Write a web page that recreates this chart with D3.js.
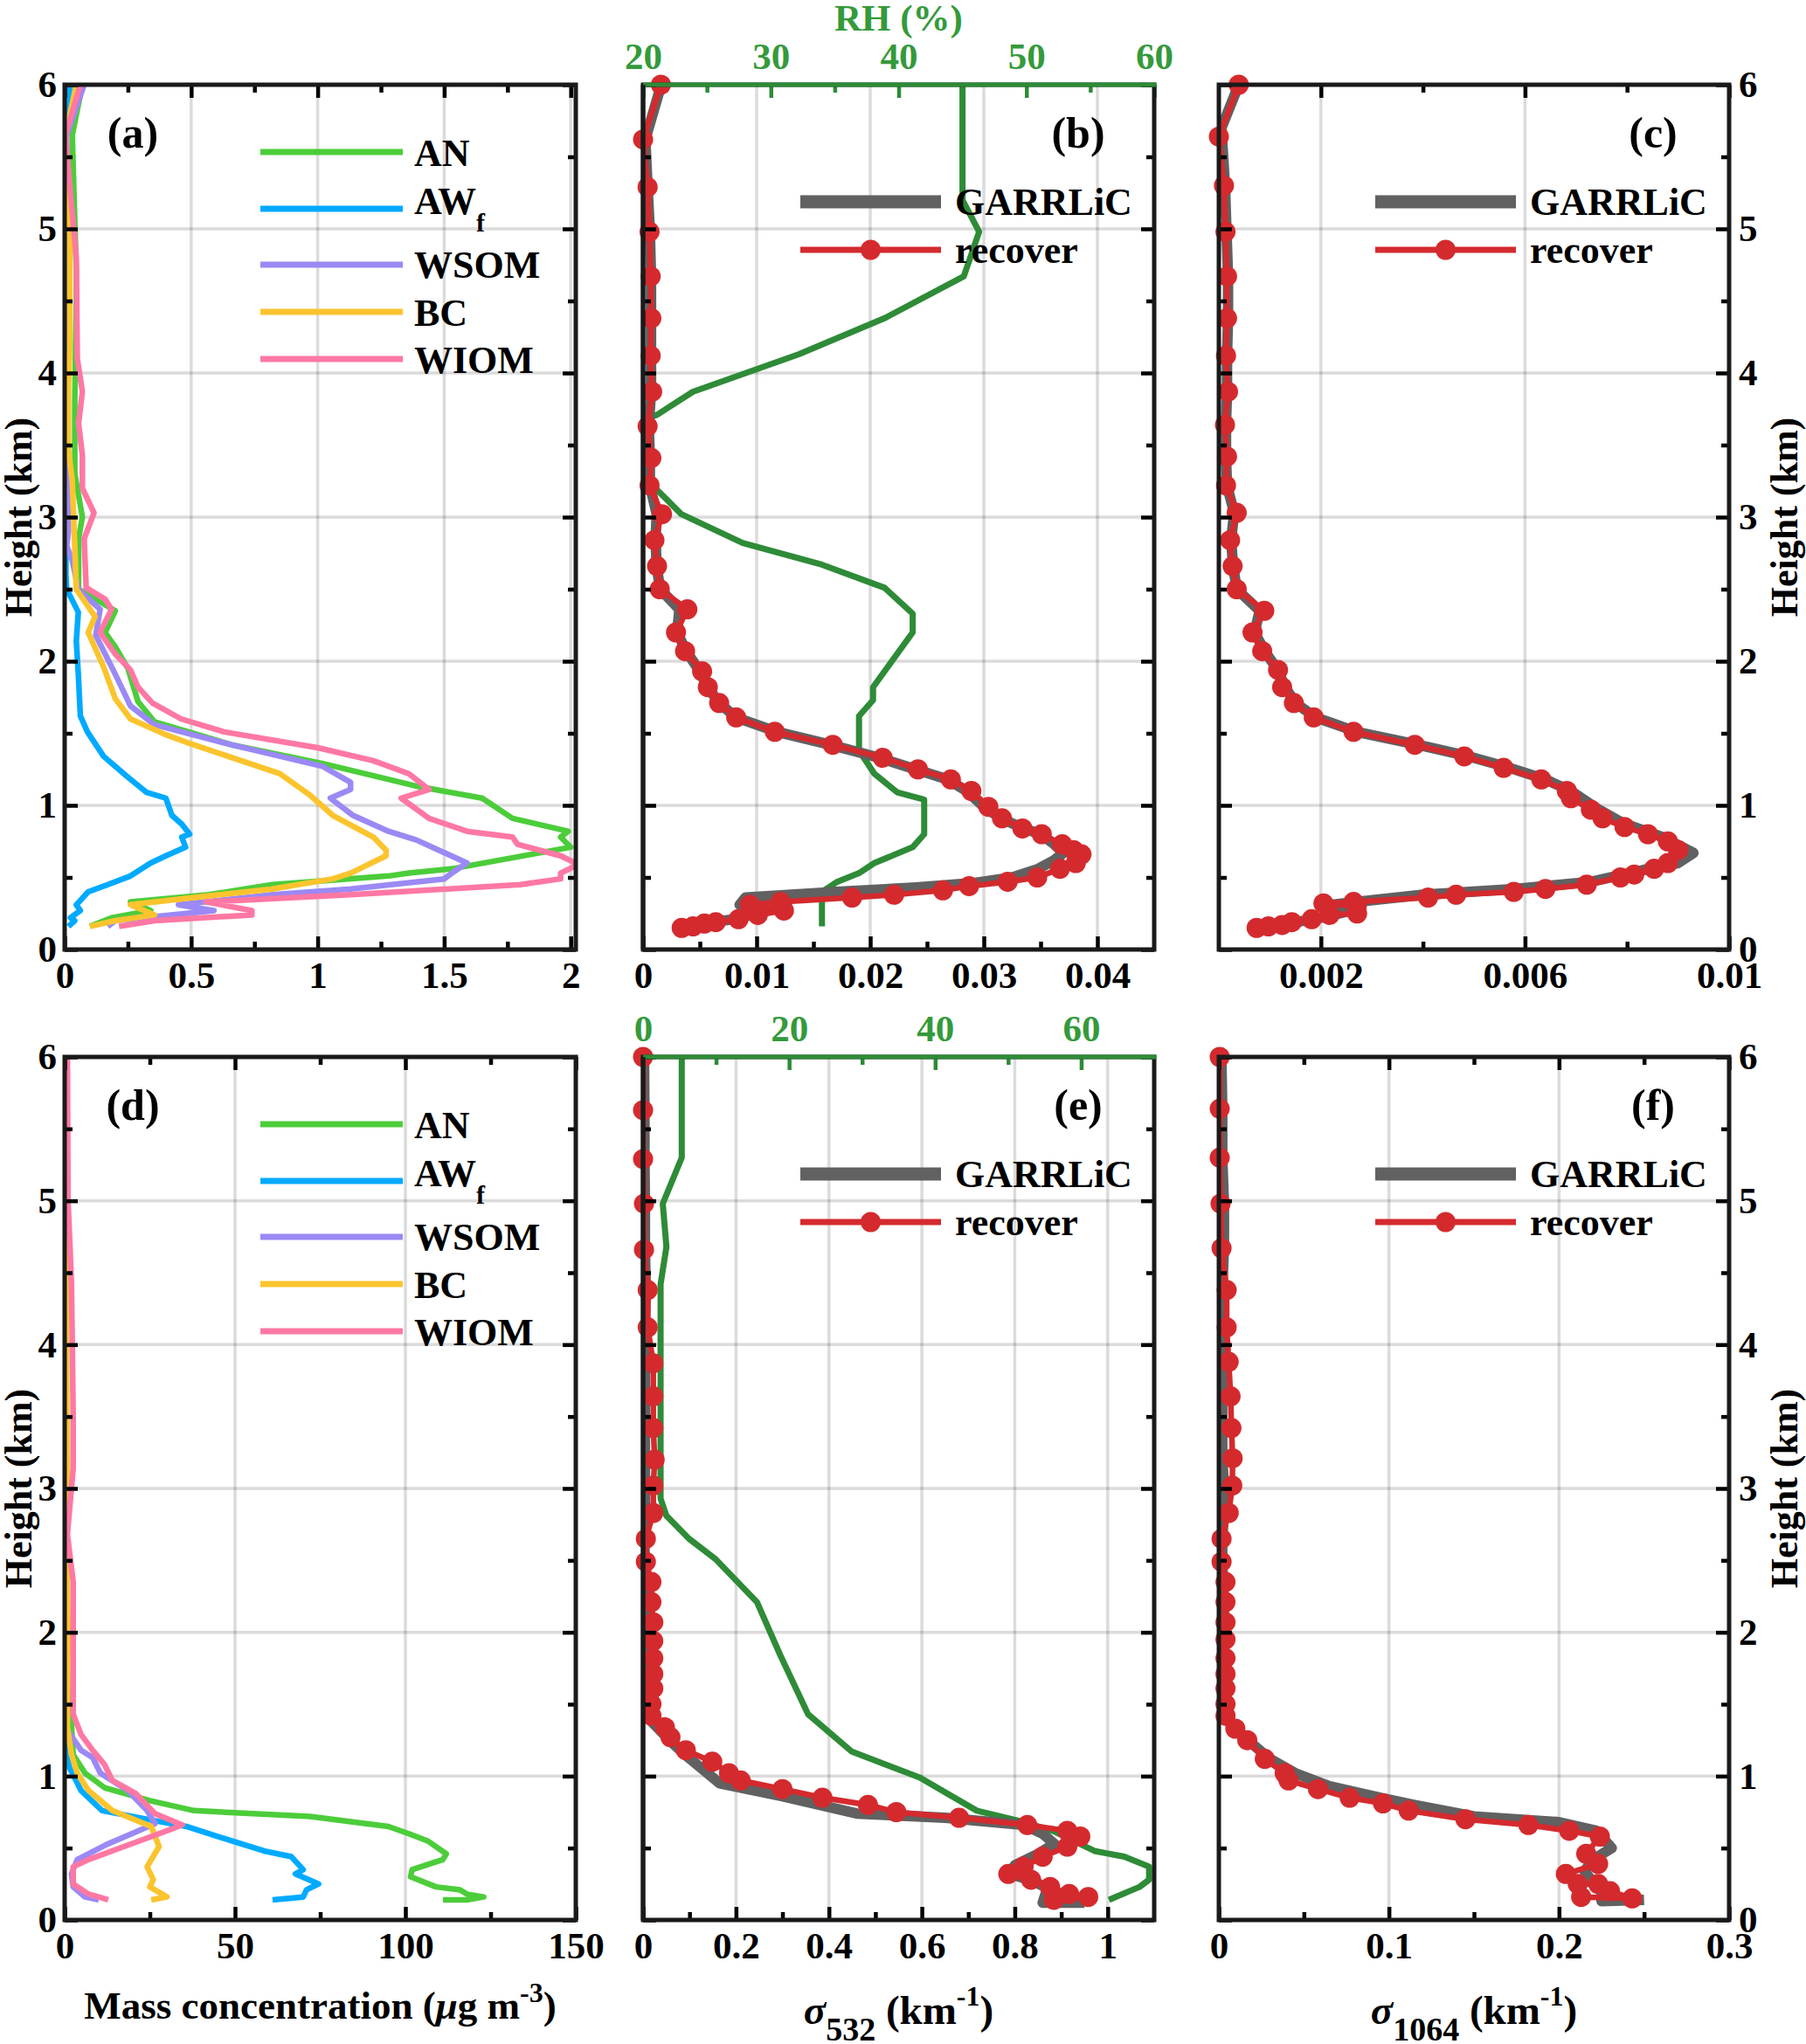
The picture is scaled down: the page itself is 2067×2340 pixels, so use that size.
<!DOCTYPE html>
<html><head><meta charset="utf-8">
<script src="https://cdn.jsdelivr.net/npm/d3@7"></script>
<style>body{margin:0;background:#fff}</style>
</head><body>
<script>
// ---------------- DATA ([value, height km]) ----------------
const heightTicks = [0,1,2,3,4,5,6];
const seriesNames = ["AN","AWf","WSOM","BC","WIOM"];

// panel (a) mass concentration (µg m-3)
const a_AN = [[0.07,6.0],[0.03,5.65],[0.046,4.7],[0.045,4.4],[0.04,3.8],[0.04,3.3],[0.07,3.0],[0.055,2.85],[0.055,2.5],[0.2,2.35],[0.16,2.2],[0.2,2.1],[0.25,1.95],[0.29,1.72],[0.355,1.58],[0.51,1.5],[0.66,1.42],[1.02,1.29],[1.40,1.13],[1.65,1.05],[1.77,0.91],[1.99,0.82],[1.96,0.78],[2.0,0.71],[1.53,0.56],[1.36,0.53],[1.28,0.51],[0.82,0.45],[0.57,0.38],[0.26,0.33],[0.34,0.27],[0.185,0.22],[0.1,0.16]];
const a_AW = [[0.023,6.0],[0.0,5.65],[0.003,4.5],[0.003,3.5],[0.005,2.6],[0.008,2.5],[0.054,2.34],[0.046,2.14],[0.054,1.91],[0.062,1.62],[0.09,1.51],[0.154,1.34],[0.247,1.2],[0.324,1.09],[0.40,1.05],[0.424,0.93],[0.463,0.87],[0.494,0.8],[0.463,0.78],[0.478,0.71],[0.40,0.65],[0.34,0.6],[0.26,0.51],[0.17,0.45],[0.093,0.40],[0.046,0.31],[0.062,0.27],[0.023,0.22],[0.04,0.2],[0.015,0.16]];
const a_WSOM = [[0.077,6.0],[0.008,5.65],[0.015,4.5],[0.01,3.75],[0.015,2.9],[0.008,2.8],[0.03,2.7],[0.054,2.5],[0.14,2.36],[0.123,2.18],[0.2,1.91],[0.26,1.69],[0.355,1.56],[0.66,1.42],[1.02,1.27],[1.13,1.16],[1.13,1.11],[1.05,1.05],[1.14,0.93],[1.28,0.82],[1.39,0.76],[1.59,0.6],[1.53,0.53],[1.5,0.49],[1.13,0.42],[0.82,0.38],[0.45,0.31],[0.59,0.27],[0.2,0.2],[0.17,0.16]];
const a_BC = [[0.046,6.0],[0.003,5.65],[0.02,5.0],[0.02,4.2],[0.015,3.9],[0.015,3.47],[0.03,3.25],[0.04,2.8],[0.046,2.5],[0.12,2.31],[0.093,2.2],[0.154,1.96],[0.2,1.74],[0.26,1.6],[0.4,1.49],[0.51,1.42],[0.85,1.22],[0.97,1.07],[1.06,0.93],[1.22,0.78],[1.27,0.69],[1.27,0.65],[1.13,0.53],[1.06,0.49],[0.82,0.42],[0.51,0.36],[0.26,0.31],[0.355,0.24],[0.2,0.2],[0.1,0.16]];
const a_WIOM = [[0.062,6.0],[0.003,5.65],[0.023,5.25],[0.046,4.8],[0.05,4.1],[0.07,3.87],[0.055,3.65],[0.07,3.43],[0.07,3.2],[0.116,3.03],[0.077,2.85],[0.085,2.51],[0.16,2.43],[0.185,2.36],[0.14,2.2],[0.2,2.05],[0.26,1.94],[0.29,1.82],[0.347,1.71],[0.46,1.6],[0.63,1.51],[1.0,1.4],[1.22,1.31],[1.36,1.22],[1.44,1.11],[1.33,1.05],[1.44,0.91],[1.59,0.82],[1.77,0.78],[1.79,0.73],[1.96,0.65],[2.03,0.59],[1.96,0.53],[1.96,0.49],[1.8,0.45],[1.13,0.38],[0.56,0.33],[0.74,0.27],[0.74,0.24],[0.355,0.2],[0.215,0.16]];

// panel (b) sigma532 (km-1) and RH (%)
const b_RH = [[45.0,6.0],[45.0,5.2],[46.3,4.98],[45.1,4.67],[38.9,4.38],[32.2,4.13],[23.9,3.87],[21.1,3.71],[17,3.6],[19.9,3.3],[21.2,3.18],[23.0,3.02],[27.8,2.82],[34.0,2.67],[38.9,2.51],[41.1,2.33],[41.1,2.2],[38.0,1.82],[38.0,1.73],[36.9,1.62],[36.9,1.38],[38.1,1.22],[39.9,1.09],[42.0,1.04],[42.0,0.8],[41.1,0.71],[38.1,0.6],[36.9,0.53],[35.2,0.47],[34.0,0.4],[34.0,0.16]];
const b_GARRLiC = [[0.0016,6.0],[0.0002,5.62],[0.0004,5.29],[0.0006,4.98],[0.0007,4.67],[0.0007,4.38],[0.0007,4.12],[0.0007,3.87],[0.0005,3.63],[0.0006,3.41],[0.0006,3.22],[0.0012,3.02],[0.0011,2.84],[0.0012,2.66],[0.0015,2.5],[0.0032,2.36],[0.0030,2.2],[0.0038,2.07],[0.0050,1.93],[0.0057,1.82],[0.0067,1.71],[0.0082,1.61],[0.0118,1.51],[0.0165,1.42],[0.0208,1.33],[0.0240,1.25],[0.0268,1.18],[0.0285,1.1],[0.0300,0.99],[0.0315,0.91],[0.0335,0.84],[0.0350,0.8],[0.0362,0.73],[0.0370,0.67],[0.0362,0.62],[0.0348,0.56],[0.0325,0.5],[0.0290,0.46],[0.0240,0.43],[0.0170,0.40],[0.0090,0.36],[0.0085,0.31],[0.0110,0.27],[0.0095,0.24],[0.0080,0.21],[0.0060,0.19],[0.0045,0.16],[0.0035,0.15]];
const b_recover = [[0.00157,6.0],[0.0,5.62],[0.0004,5.29],[0.00057,4.98],[0.00067,4.67],[0.00073,4.38],[0.00067,4.12],[0.0008,3.87],[0.0004,3.63],[0.00073,3.41],[0.00057,3.22],[0.00167,3.02],[0.001,2.84],[0.00123,2.66],[0.00147,2.5],[0.0039,2.36],[0.0029,2.2],[0.0037,2.07],[0.0052,1.93],[0.0057,1.82],[0.0067,1.71],[0.0082,1.61],[0.0116,1.51],[0.0167,1.42],[0.0211,1.33],[0.0242,1.25],[0.0271,1.18],[0.0289,1.1],[0.0304,0.99],[0.0316,0.91],[0.0334,0.84],[0.0351,0.8],[0.0369,0.73],[0.0379,0.69],[0.0386,0.66],[0.0381,0.6],[0.0367,0.56],[0.0347,0.5],[0.0321,0.47],[0.0287,0.44],[0.0264,0.41],[0.0221,0.38],[0.0184,0.36],[0.0121,0.33],[0.0094,0.31],[0.0124,0.27],[0.0101,0.24],[0.0084,0.21],[0.0064,0.19],[0.0054,0.18],[0.0044,0.16],[0.0034,0.15]];

// panel (c) sigma1064 (km-1)
const c_GARRLiC = [[0.00039,6],[0.00005,5.7],[0.00012,5.3],[0.00015,4.98],[0.00018,4.67],[0.00018,4.38],[0.00016,4.12],[0.00016,3.87],[0.00014,3.64],[0.00014,3.42],[0.00016,3.22],[0.00030,3.03],[0.00024,2.84],[0.00028,2.66],[0.00035,2.5],[0.0008,2.35],[0.0007,2.2],[0.0009,2.07],[0.00115,1.94],[0.0013,1.82],[0.0015,1.71],[0.0019,1.61],[0.0027,1.51],[0.0039,1.42],[0.0049,1.34],[0.0057,1.26],[0.0064,1.18],[0.0069,1.1],[0.0074,0.98],[0.0079,0.88],[0.0087,0.78],[0.0093,0.67],[0.0090,0.6],[0.0083,0.55],[0.0073,0.47],[0.0058,0.42],[0.0040,0.38],[0.0027,0.33],[0.0022,0.31],[0.0026,0.27],[0.0020,0.22],[0.0012,0.17],[0.0008,0.15]];
const c_recover = [[0.00039,6],[0.0,5.64],[0.0001,5.3],[0.00013,4.98],[0.00016,4.67],[0.00016,4.38],[0.00014,4.12],[0.00018,3.87],[0.00012,3.64],[0.00016,3.42],[0.00014,3.22],[0.00035,3.03],[0.00022,2.84],[0.00027,2.66],[0.00035,2.5],[0.00089,2.35],[0.00066,2.2],[0.00085,2.07],[0.00116,1.94],[0.00124,1.82],[0.00147,1.71],[0.00186,1.61],[0.00264,1.51],[0.00384,1.42],[0.00481,1.34],[0.00558,1.26],[0.00632,1.18],[0.00682,1.1],[0.0069,1.05],[0.00729,0.97],[0.00752,0.91],[0.00795,0.85],[0.00841,0.8],[0.0088,0.75],[0.009,0.69],[0.0088,0.6],[0.00853,0.56],[0.00814,0.52],[0.00787,0.5],[0.00721,0.45],[0.0064,0.42],[0.00578,0.4],[0.00465,0.38],[0.0041,0.36],[0.00264,0.33],[0.00205,0.32],[0.0027,0.30],[0.00271,0.25],[0.00217,0.24],[0.00182,0.21],[0.00143,0.19],[0.00124,0.17],[0.00097,0.16],[0.00074,0.15]];

// panel (d) mass concentration (µg m-3)
const d_AN = [[0.5,6.0],[0.3,4.5],[0.3,3.0],[0.5,2.0],[1.0,1.5],[2.0,1.36],[2.5,1.15],[6,1.02],[11.7,0.92],[25,0.83],[38,0.76],[72,0.72],[95,0.65],[101,0.6],[106.5,0.55],[112,0.46],[111,0.42],[102,0.35],[101.5,0.3],[109,0.23],[116,0.21],[118,0.18],[123,0.16],[118,0.14],[111,0.14]];
const d_AW = [[0.3,6.0],[0.1,4.5],[0.1,3.0],[0.1,2.0],[0.2,1.2],[1.4,1.06],[4.8,0.9],[11,0.76],[26.5,0.69],[35.7,0.65],[49,0.55],[58.5,0.48],[66.5,0.44],[70,0.35],[67.7,0.32],[74.5,0.25],[71,0.21],[70,0.16],[61,0.14]];
const d_WSOM = [[0.5,6],[0.3,4.5],[0.3,3.0],[0.3,2.0],[0.5,1.5],[0.8,1.32],[4.8,1.18],[8.2,1.13],[10.5,1.02],[18.5,0.9],[24.2,0.76],[26.5,0.67],[19.7,0.6],[12.8,0.53],[3.7,0.42],[2,0.32],[2.5,0.23],[6,0.16],[10,0.14]];
const d_BC = [[0.5,6],[0.5,4],[0.8,3.0],[0.5,2.6],[1.0,2.0],[0.8,1.6],[0.8,1.34],[2,1.15],[3.7,1.02],[7,0.9],[14,0.76],[25.4,0.65],[27.7,0.51],[24.2,0.37],[26,0.28],[25,0.23],[30,0.16],[25.4,0.14]];
const d_WIOM = [[0.8,6],[1.0,5.0],[2,4.43],[2.5,3.5],[2.5,3.14],[0.8,2.68],[2.5,2.35],[2.5,1.43],[4.8,1.29],[8.2,1.18],[11.7,1.08],[14,0.97],[20.8,0.88],[26.5,0.74],[34.5,0.66],[27.7,0.6],[17.4,0.51],[7,0.42],[2.5,0.37],[2.5,0.25],[7,0.18],[12.8,0.14]];

// panel (e) sigma532 (km-1) and RH (%)
const e_RH = [[5.3,6.0],[5.3,5.3],[2.7,4.98],[3.2,4.68],[2.4,4.42],[2.4,2.93],[3.2,2.81],[6.3,2.65],[9.9,2.51],[15.6,2.21],[18.8,1.84],[22.6,1.43],[28.6,1.17],[37.9,0.99],[45.7,0.76],[51.4,0.69],[56.1,0.62],[61.8,0.48],[65.9,0.44],[69.3,0.37],[69.3,0.28],[68,0.23],[63.8,0.14]];
const e_GARRLiC = [[0.002,6],[0.003,5.63],[0.003,5.29],[0.004,4.98],[0.004,4.66],[0.006,4.38],[0.004,4.12],[0.004,3.87],[0.004,3.64],[0.004,3.42],[0.004,3.2],[0.004,3.02],[0.004,2.83],[0.003,2.65],[0.003,2.49],[0.004,2.2],[0.004,1.8],[0.006,1.42],[0.03,1.34],[0.06,1.24],[0.09,1.15],[0.165,0.95],[0.3,0.86],[0.46,0.74],[0.65,0.71],[0.82,0.66],[0.86,0.6],[0.885,0.53],[0.85,0.46],[0.8,0.38],[0.79,0.32],[0.84,0.27],[0.87,0.22],[0.86,0.12],[0.95,0.12]];
const e_recover = [[0,6],[0,5.63],[0,5.29],[0.002,4.98],[0.002,4.66],[0.01,4.38],[0.01,4.12],[0.022,3.87],[0.022,3.64],[0.022,3.42],[0.025,3.2],[0.022,3.02],[0.022,2.83],[0.006,2.65],[0.006,2.49],[0.018,2.35],[0.018,2.21],[0.022,2.07],[0.022,1.94],[0.022,1.82],[0.022,1.71],[0.022,1.61],[0.018,1.5],[0.018,1.42],[0.047,1.34],[0.059,1.27],[0.092,1.18],[0.149,1.1],[0.185,1.02],[0.21,0.97],[0.3,0.91],[0.386,0.85],[0.484,0.8],[0.545,0.75],[0.68,0.71],[0.827,0.66],[0.913,0.62],[0.941,0.58],[0.913,0.51],[0.86,0.44],[0.819,0.37],[0.786,0.32],[0.835,0.28],[0.876,0.23],[0.917,0.18],[0.958,0.16],[0.884,0.14]];

// panel (f) sigma1064 (km-1)
const f_GARRLiC = [[0.0015,6],[0.002,5.64],[0.002,5.3],[0.003,4.98],[0.003,4.67],[0.002,4.38],[0.002,4.12],[0.002,3.88],[0.002,3.64],[0.002,3.42],[0.002,3.21],[0.003,3.02],[0.003,2.83],[0.002,2.65],[0.002,2.49],[0.003,2.2],[0.003,1.8],[0.003,1.42],[0.009,1.33],[0.017,1.25],[0.03,1.12],[0.045,1.02],[0.065,0.93],[0.095,0.85],[0.115,0.8],[0.15,0.72],[0.2,0.68],[0.222,0.62],[0.231,0.5],[0.22,0.42],[0.215,0.34],[0.22,0.26],[0.225,0.2],[0.225,0.13],[0.25,0.14]];
const f_recover = [[0.0005,6],[0.0005,5.64],[0.0005,5.3],[0.001,4.98],[0.0016,4.67],[0.0046,4.38],[0.0046,4.12],[0.0058,3.88],[0.0069,3.64],[0.0074,3.42],[0.0081,3.21],[0.0079,3.02],[0.0058,2.83],[0.0016,2.65],[0.0016,2.49],[0.0039,2.35],[0.0039,2.21],[0.0039,2.07],[0.0039,1.95],[0.0039,1.82],[0.0039,1.71],[0.0039,1.61],[0.0039,1.5],[0.0039,1.42],[0.0097,1.33],[0.0167,1.25],[0.027,1.12],[0.0387,1.02],[0.041,0.97],[0.0583,0.91],[0.0769,0.85],[0.0965,0.81],[0.1116,0.76],[0.145,0.7],[0.182,0.66],[0.206,0.62],[0.224,0.58],[0.216,0.46],[0.223,0.39],[0.204,0.32],[0.211,0.25],[0.223,0.25],[0.23,0.2],[0.243,0.15],[0.213,0.16]];

// tick values
const a_ticks = [0,0.5,1,1.5,2];
const b_ticks = [0,0.01,0.02,0.03,0.04];
const c_ticks = [0.002,0.006,0.01];
const d_ticks = [0,50,100,150];
const e_ticks = [0,0.2,0.4,0.6,0.8,1];
const f_ticks = [0,0.1,0.2,0.3];
const b_RHticks = [20,30,40,50,60];
const e_RHticks = [0,20,40,60];

// ---------------- STYLE ----------------
const FONT = "'Liberation Serif','Times New Roman',serif";
const massColors = {AN:"#4ccd3a", AWf:"#00aaff", WSOM:"#9b89f5", BC:"#fbc42e", WIOM:"#fe78a3"};
const RHcol = "#2e8b37", RHtext = "#349a3b", REDc = "#d42a2e", GREYc = "#616161";
const colX = [[74,659],[736,1321],[1395,1979]];
const rowY = [[97,1087],[1210,2198]];
const TICKFS = 43, LEGFS = 44, TITLEFS = 44;

const svg = d3.select("body").append("svg").attr("width",2067).attr("height",2340)
  .style("font-family",FONT).style("font-weight","bold");
svg.append("rect").attr("width",2067).attr("height",2340).attr("fill","#fff");
const defs = svg.append("defs");

const fmt = d => String(+(+d).toFixed(6));

function midpoints(arr){ const m=[]; for(let i=0;i<arr.length-1;i++) m.push((arr[i]+arr[i+1])/2); return m; }

function styleAxis(g, color){
  g.attr("font-family",FONT).attr("font-size",TICKFS).attr("font-weight","bold");
  g.select(".domain").remove();
  g.selectAll(".tick line").attr("stroke",color).attr("stroke-width",4.5);
  g.selectAll(".tick text").attr("fill",color);
}

function panel(cfg){
  const [x0,x1] = colX[cfg.col], [y0,y1] = rowY[cfg.row];
  const xs = d3.scaleLinear().domain(cfg.xdom).range([x0,x1]);
  const ys = d3.scaleLinear().domain([0,6]).range([y1,y0]);
  const g = svg.append("g");
  const cid = "clip_"+cfg.name;
  defs.append("clipPath").attr("id",cid).append("rect").attr("x",x0).attr("y",y0).attr("width",x1-x0).attr("height",y1-y0);

  // grid
  g.append("g").selectAll("line").data(cfg.grid).enter().append("line")
    .attr("x1",d=>xs(d)).attr("x2",d=>xs(d)).attr("y1",y0).attr("y2",y1)
    .attr("stroke","#000").attr("stroke-opacity",0.14).attr("stroke-width",3.5);
  g.append("g").selectAll("line").data(heightTicks.slice(1,-1)).enter().append("line")
    .attr("y1",d=>ys(d)).attr("y2",d=>ys(d)).attr("x1",x0).attr("x2",x1)
    .attr("stroke","#000").attr("stroke-opacity",0.14).attr("stroke-width",3.5);

  const data = g.append("g").attr("clip-path","url(#"+cid+")");
  const lineGen = sc => d3.line().x(d=>sc(d[0])).y(d=>ys(d[1]));

  let rhs = null;
  if(cfg.rh){
    rhs = d3.scaleLinear().domain(cfg.rh.dom).range([x0,x1]);
    data.append("path").datum(cfg.rh.data).attr("d",lineGen(rhs)).attr("fill","none")
      .attr("stroke",RHcol).attr("stroke-width",7).attr("stroke-linejoin","round");
  }
  if(cfg.mass){
    cfg.mass.forEach((s,i)=>{
      data.append("path").datum(s).attr("d",lineGen(xs)).attr("fill","none")
        .attr("stroke",massColors[seriesNames[i]]).attr("stroke-width",6.5).attr("stroke-linejoin","round");
    });
  }
  if(cfg.grey){
    data.append("path").datum(cfg.grey).attr("d",lineGen(xs)).attr("fill","none")
      .attr("stroke",GREYc).attr("stroke-width",12).attr("stroke-linejoin","round");
    data.append("path").datum(cfg.red).attr("d",lineGen(xs)).attr("fill","none")
      .attr("stroke",REDc).attr("stroke-width",6.5).attr("stroke-linejoin","round");
    g.append("g").selectAll("circle").data(cfg.red).enter().append("circle")
      .attr("cx",d=>xs(d[0])).attr("cy",d=>ys(d[1])).attr("r",11.5).attr("fill",REDc);
  }

  // axes
  const major = cfg.ticks, minor = cfg.minor || midpoints(cfg.ticks);
  const ax = g.append("g");
  const bot = ax.append("g").attr("transform",`translate(0,${y1})`)
    .call(d3.axisBottom(xs).tickValues(major).tickSize(-15).tickPadding(13).tickFormat(fmt));
  styleAxis(bot,"#000");
  const botm = ax.append("g").attr("transform",`translate(0,${y1})`)
    .call(d3.axisBottom(xs).tickValues(minor).tickSize(-9).tickFormat(""));
  styleAxis(botm,"#000");

  if(cfg.rh){
    const top = ax.append("g").attr("transform",`translate(0,${y0})`)
      .call(d3.axisTop(rhs).tickValues(cfg.rh.ticks).tickSize(-15).tickPadding(18).tickFormat(fmt));
    styleAxis(top,RHtext);
    top.selectAll(".tick line").attr("stroke",RHcol);
    const topm = ax.append("g").attr("transform",`translate(0,${y0})`)
      .call(d3.axisTop(rhs).tickValues(midpoints(cfg.rh.ticks)).tickSize(-9).tickFormat(""));
    styleAxis(topm,RHcol);
  } else {
    const top = ax.append("g").attr("transform",`translate(0,${y0})`)
      .call(d3.axisTop(xs).tickValues(major).tickSize(-15).tickFormat(""));
    styleAxis(top,"#000");
    const topm = ax.append("g").attr("transform",`translate(0,${y0})`)
      .call(d3.axisTop(xs).tickValues(minor).tickSize(-9).tickFormat(""));
    styleAxis(topm,"#000");
  }
  const hMinor = midpoints(heightTicks);
  const left = ax.append("g").attr("transform",`translate(${x0},0)`)
    .call(d3.axisLeft(ys).tickValues(heightTicks).tickSize(-15).tickPadding(9).tickFormat(cfg.yLeft?fmt:""));
  styleAxis(left,"#000");
  const leftm = ax.append("g").attr("transform",`translate(${x0},0)`)
    .call(d3.axisLeft(ys).tickValues(hMinor).tickSize(-9).tickFormat(""));
  styleAxis(leftm,"#000");
  const right = ax.append("g").attr("transform",`translate(${x1},0)`)
    .call(d3.axisRight(ys).tickValues(heightTicks).tickSize(-15).tickPadding(11).tickFormat(cfg.yRight?fmt:""));
  styleAxis(right,"#000");
  const rightm = ax.append("g").attr("transform",`translate(${x1},0)`)
    .call(d3.axisRight(ys).tickValues(hMinor).tickSize(-9).tickFormat(""));
  styleAxis(rightm,"#000");

  // box
  g.append("rect").attr("x",x0).attr("y",y0).attr("width",x1-x0).attr("height",y1-y0)
    .attr("fill","none").attr("stroke","#1a1a1a").attr("stroke-width",5);
  if(cfg.rh){
    g.append("line").attr("x1",x0).attr("x2",x1+2.5).attr("y1",y0).attr("y2",y0)
      .attr("stroke",RHcol).attr("stroke-width",5);
    g.append("line").attr("x1",x0).attr("x2",x0).attr("y1",y0).attr("y2",y1)
      .attr("stroke","#1a1a1a").attr("stroke-width",5);
    if(cfg.rh.title){
      g.append("text").attr("x",(x0+x1)/2).attr("y",35).attr("text-anchor","middle")
        .attr("font-size",43).attr("fill",RHtext).text(cfg.rh.title);
    }
  }

  // panel label
  const lab = g.append("text").attr("y",y0+72).attr("font-size",50).attr("text-anchor","middle").text(cfg.label);
  if(cfg.labelLeft) lab.attr("x",x0+78); else lab.attr("x",x1-87);

  // legends
  if(cfg.mass){
    const lineY = [77,142,206,260,314], baseY = [93,148,221,276,330];
    seriesNames.forEach((n,i)=>{
      g.append("line").attr("x1",x0+224).attr("x2",x0+387).attr("y1",y0+lineY[i]).attr("y2",y0+lineY[i])
        .attr("stroke",massColors[n]).attr("stroke-width",7);
      const t = g.append("text").attr("x",x0+400).attr("y",y0+baseY[i]).attr("font-size",LEGFS);
      if(n==="AWf"){ t.text("AW"); t.append("tspan").attr("font-size",30).attr("dy",20).text("f"); }
      else t.text(n);
    });
  }
  if(cfg.grey){
    const lx1 = x1-405, lx2 = x1-244, tx = x1-228;
    g.append("line").attr("x1",lx1).attr("x2",lx2).attr("y1",y0+134).attr("y2",y0+134)
      .attr("stroke",GREYc).attr("stroke-width",15);
    g.append("text").attr("x",tx).attr("y",y0+149).attr("font-size",LEGFS).text("GARRLiC");
    g.append("line").attr("x1",lx1).attr("x2",lx2).attr("y1",y0+189).attr("y2",y0+189)
      .attr("stroke",REDc).attr("stroke-width",7);
    g.append("circle").attr("cx",(lx1+lx2)/2).attr("cy",y0+189).attr("r",11.5).attr("fill",REDc);
    g.append("text").attr("x",tx).attr("y",y0+204).attr("font-size",LEGFS).text("recover");
  }

  // y titles
  const yc = (y0+y1)/2;
  if(cfg.yLeft){
    g.append("text").attr("transform",`translate(36,${yc}) rotate(-90)`).attr("text-anchor","middle")
      .attr("font-size",TITLEFS).text("Height (km)");
  }
  if(cfg.yRight){
    g.append("text").attr("transform",`translate(2057,${yc}) rotate(-90)`).attr("text-anchor","middle")
      .attr("font-size",TITLEFS).text("Height (km)");
  }
  if(cfg.xTitle) cfg.xTitle(g,(x0+x1)/2);
}

panel({name:"a",col:0,row:0,xdom:[0,2.02],ticks:a_ticks,grid:[0.5,1,1.5,2],label:"(a)",labelLeft:true,yLeft:true,
  mass:[a_AN,a_AW,a_WSOM,a_BC,a_WIOM]});
panel({name:"b",col:1,row:0,xdom:[0,0.045],ticks:b_ticks,minor:[0.005,0.015,0.025,0.035],grid:[0.01,0.02,0.03,0.04],label:"(b)",
  rh:{dom:[20,60],ticks:b_RHticks,data:b_RH,title:"RH (%)"},grey:b_GARRLiC,red:b_recover});
panel({name:"c",col:2,row:0,xdom:[0,0.01],ticks:c_ticks,minor:[0.004,0.008],grid:[0.002,0.006],label:"(c)",yRight:true,
  grey:c_GARRLiC,red:c_recover});
panel({name:"d",col:0,row:1,xdom:[0,150],ticks:d_ticks,grid:[50,100],label:"(d)",labelLeft:true,yLeft:true,
  mass:[d_AN,d_AW,d_WSOM,d_BC,d_WIOM],
  xTitle:(g,cx)=>{
    const t = g.append("text").attr("x",cx).attr("y",2311).attr("text-anchor","middle").attr("font-size",45);
    t.append("tspan").text("Mass concentration (");
    t.append("tspan").attr("font-style","italic").text("\u03bc");
    t.append("tspan").text("g m");
    t.append("tspan").attr("font-size",32).attr("dy",-19).text("-3");
    t.append("tspan").attr("dy",19).text(")");
  }});
const sigmaTitle = sub => (g,cx)=>{
  const t = g.append("text").attr("x",cx).attr("y",2317).attr("text-anchor","middle").attr("font-size",47);
  t.append("tspan").attr("font-style","italic").text("\u03c3");
  t.append("tspan").attr("font-size",38).attr("dy",19).text(sub);
  t.append("tspan").attr("dy",-19).text(" (km");
  t.append("tspan").attr("font-size",32).attr("dy",-21).text("-1");
  t.append("tspan").attr("dy",21).text(")");
};
panel({name:"e",col:1,row:1,xdom:[0,1.1],ticks:e_ticks,minor:[0.1,0.3,0.5,0.7,0.9],grid:[0.2,0.4,0.6,0.8,1],label:"(e)",
  rh:{dom:[0,70],ticks:e_RHticks,data:e_RH},grey:e_GARRLiC,red:e_recover,xTitle:sigmaTitle("532")});
panel({name:"f",col:2,row:1,xdom:[0,0.3],ticks:f_ticks,grid:[0.1,0.2],label:"(f)",yRight:true,
  grey:f_GARRLiC,red:f_recover,xTitle:sigmaTitle("1064")});
</script>
</body></html>
